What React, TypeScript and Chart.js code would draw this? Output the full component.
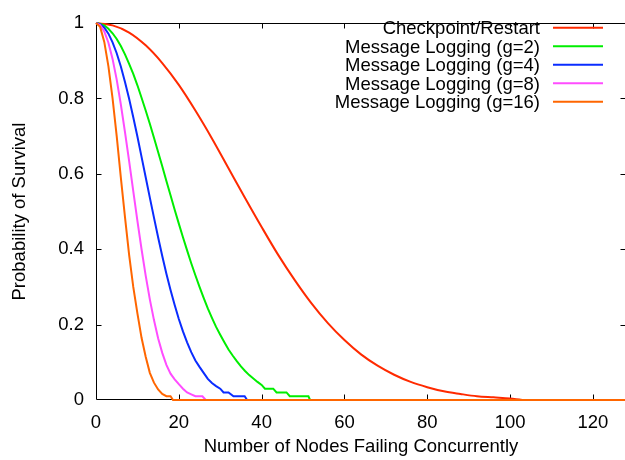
import React, { useEffect, useRef } from "react";
import { Chart, registerables } from "chart.js";

Chart.register(...registerables);

// ---- data ----
const seriesNames = [
  "Checkpoint/Restart",
  "Message Logging (g=2)",
  "Message Logging (g=4)",
  "Message Logging (g=8)",
  "Message Logging (g=16)",
];
const seriesColors = ["#ff2a00", "#00ee00", "#0a2cff", "#ff4cff", "#ff6600"];

const xTickValues = [0, 20, 40, 60, 80, 100, 120];
const yTickValues = [0, 0.2, 0.4, 0.6, 0.8, 1];

const crX = [0, 4, 8, 12, 16, 20, 24, 28, 32, 36, 40, 44, 48, 52, 56, 60, 64, 68, 72, 76, 80, 84, 88, 92, 96, 100, 104, 128];
const crY = [1, 0.994, 0.975, 0.941, 0.894, 0.836, 0.768, 0.694, 0.615, 0.536, 0.459, 0.385, 0.318, 0.257, 0.204, 0.159, 0.121, 0.091, 0.067, 0.048, 0.034, 0.023, 0.016, 0.01, 0.007, 0.004, 0, 0];

const g2X = [0, 1, 2, 3, 4, 5, 6, 7, 8, 9, 10, 11, 12, 13, 14, 15, 16, 17, 18, 19, 20, 21, 22, 23, 24, 25, 26, 27, 28, 29, 30, 31, 32, 33, 34, 35, 36, 37, 38, 39, 40, 40.8, 42.8, 43.6, 46.0, 46.8, 51.3, 51.7, 128];
const g2Y = [1, 0.998, 0.994, 0.985, 0.973, 0.958, 0.939, 0.917, 0.892, 0.865, 0.835, 0.802, 0.768, 0.733, 0.696, 0.658, 0.62, 0.581, 0.543, 0.505, 0.468, 0.432, 0.397, 0.363, 0.331, 0.3, 0.271, 0.243, 0.218, 0.194, 0.173, 0.153, 0.134, 0.118, 0.103, 0.089, 0.077, 0.066, 0.057, 0.048, 0.04, 0.03, 0.03, 0.02, 0.02, 0.01, 0.01, 0, 0];

const g4X = [0, 1, 2, 3, 4, 5, 6, 7, 8, 9, 10, 11, 12, 13, 14, 15, 16, 17, 18, 19, 20, 21, 22, 23, 24, 25, 26, 27, 28, 29, 30, 30.8, 32.0, 33.2, 35.9, 36.5, 128];
const g4Y = [1, 0.997, 0.988, 0.972, 0.949, 0.92, 0.885, 0.844, 0.799, 0.75, 0.699, 0.645, 0.591, 0.537, 0.484, 0.432, 0.382, 0.335, 0.292, 0.252, 0.215, 0.182, 0.153, 0.127, 0.105, 0.088, 0.072, 0.056, 0.045, 0.037, 0.03, 0.02, 0.02, 0.01, 0.01, 0, 0];

const g8X = [0, 1, 2, 3, 4, 5, 6, 7, 8, 9, 10, 11, 12, 13, 14, 15, 16, 17, 18, 19, 20, 21, 22, 23, 24, 25.7, 26.5, 128];
const g8Y = [1, 0.995, 0.978, 0.948, 0.905, 0.85, 0.784, 0.711, 0.634, 0.554, 0.475, 0.4, 0.33, 0.267, 0.212, 0.164, 0.125, 0.093, 0.07, 0.055, 0.042, 0.03, 0.02, 0.015, 0.01, 0.01, 0, 0];

const g16X = [0, 1, 2, 3, 4, 5, 6, 7, 8, 9, 10, 11, 12, 13, 14, 15, 16, 17, 18, 18.6, 128];
const g16Y = [1, 0.99, 0.95, 0.885, 0.8, 0.7, 0.59, 0.485, 0.385, 0.3, 0.23, 0.165, 0.115, 0.072, 0.046, 0.028, 0.016, 0.01, 0.01, 0, 0];

const seriesX = [crX, g2X, g4X, g8X, g16X];
const seriesY = [crY, g2Y, g4Y, g8Y, g16Y];

const FONT = '"Liberation Sans", Arial, Helvetica, sans-serif';

const framePlugin = {
  id: "gnuFrame",
  beforeDatasetsDraw(chart: any) {
    const { ctx, chartArea, scales } = chart;
    const L = Math.round(chartArea.left) + 0.5;
    const R = Math.round(chartArea.right) - 0.5;
    const T = Math.round(chartArea.top) + 0.5;
    const B = Math.round(chartArea.bottom) - 0.5;
    ctx.save();
    ctx.strokeStyle = "#000";
    ctx.lineWidth = 1;
    ctx.beginPath();
    ctx.moveTo(L, T);
    ctx.lineTo(R, T);
    ctx.lineTo(R, B);
    ctx.lineTo(L, B);
    ctx.closePath();
    ctx.stroke();
    ctx.beginPath();
    for (const v of xTickValues) {
      if (v === 0) continue;
      const px = Math.round(scales.x.getPixelForValue(v)) + 0.5;
      ctx.moveTo(px, B);
      ctx.lineTo(px, B - 5);
      ctx.moveTo(px, T);
      ctx.lineTo(px, T + 5);
    }
    for (const v of yTickValues) {
      if (v === 0 || v === 1) continue;
      const py = Math.round(scales.y.getPixelForValue(v)) + 0.5;
      ctx.moveTo(L, py);
      ctx.lineTo(L + 5, py);
      ctx.moveTo(R, py);
      ctx.lineTo(R - 5, py);
    }
    ctx.stroke();
    ctx.restore();
  },
};

const legendPlugin = {
  id: "gnuLegend",
  afterDatasetsDraw(chart: any) {
    const { ctx } = chart;
    ctx.save();
    ctx.font = `18.5px ${FONT}`;
    ctx.textAlign = "right";
    ctx.textBaseline = "alphabetic";
    seriesNames.forEach((name, i) => {
      const cy = 27.7 + i * 18.5;
      ctx.fillStyle = "#000";
      ctx.fillText(name, 540, cy + 6.6);
      ctx.strokeStyle = seriesColors[i];
      ctx.lineWidth = 2;
      ctx.beginPath();
      ctx.moveTo(553, cy);
      ctx.lineTo(603, cy);
      ctx.stroke();
    });
    ctx.restore();
  },
};

export default function App() {
  const ref = useRef<HTMLCanvasElement | null>(null);
  useEffect(() => {
    if (!ref.current) return;
    const datasets = seriesNames.map((name, i) => ({
      label: name,
      data: seriesX[i].map((x, j) => ({ x, y: seriesY[i][j] })),
      borderColor: seriesColors[i],
      backgroundColor: seriesColors[i],
      borderWidth: 2,
      pointRadius: 0,
      tension: i === 0 ? 0.3 : 0,
      cubicInterpolationMode: i === 0 ? ("monotone" as const) : ("default" as const),
      fill: false,
      clip: 4,
      order: seriesNames.length - 1 - i,
    }));
    const chart = new Chart(ref.current, {
      type: "line",
      data: { datasets },
      options: {
        animation: false,
        responsive: false,
        devicePixelRatio: 1,
        events: [],
        layout: { padding: { top: 12, right: 1, left: 0, bottom: 0 } },
        plugins: { legend: { display: false }, tooltip: { enabled: false } },
        scales: {
          x: {
            type: "linear",
            min: 0,
            max: 128,
            grid: { display: false, drawTicks: false },
            border: { display: false },
            ticks: {
              stepSize: 20,
              includeBounds: false,
              padding: 12,
              color: "#000",
              font: { family: FONT, size: 18.5 },
              maxRotation: 0,
            },
            title: {
              display: true,
              text: "Number of Nodes Failing Concurrently",
              color: "#000",
              font: { family: FONT, size: 18.5 },
              padding: { top: 0, bottom: 2 },
            },
            afterFit: (s: any) => {
              s.height = 60;
            },
          },
          y: {
            type: "linear",
            min: 0,
            max: 1,
            grid: { display: false, drawTicks: false },
            border: { display: false },
            ticks: {
              stepSize: 0.2,
              padding: 12,
              color: "#000",
              font: { family: FONT, size: 18.5 },
              callback: (v: any) => String(Math.round(Number(v) * 10) / 10),
            },
            title: {
              display: true,
              text: "Probability of Survival",
              color: "#000",
              font: { family: FONT, size: 18.5 },
              padding: { top: 9, bottom: 0 },
            },
            afterFit: (s: any) => {
              s.width = 96;
            },
          },
        },
      },
      plugins: [framePlugin, legendPlugin],
    });
    return () => chart.destroy();
  }, []);
  return (
    <div
      style={{
        position: "absolute",
        left: 0,
        top: 0,
        width: 625,
        height: 460,
        overflow: "hidden",
        background: "#fff",
      }}
    >
      <canvas ref={ref} width={627} height={460} style={{ display: "block" }} />
    </div>
  );
}
